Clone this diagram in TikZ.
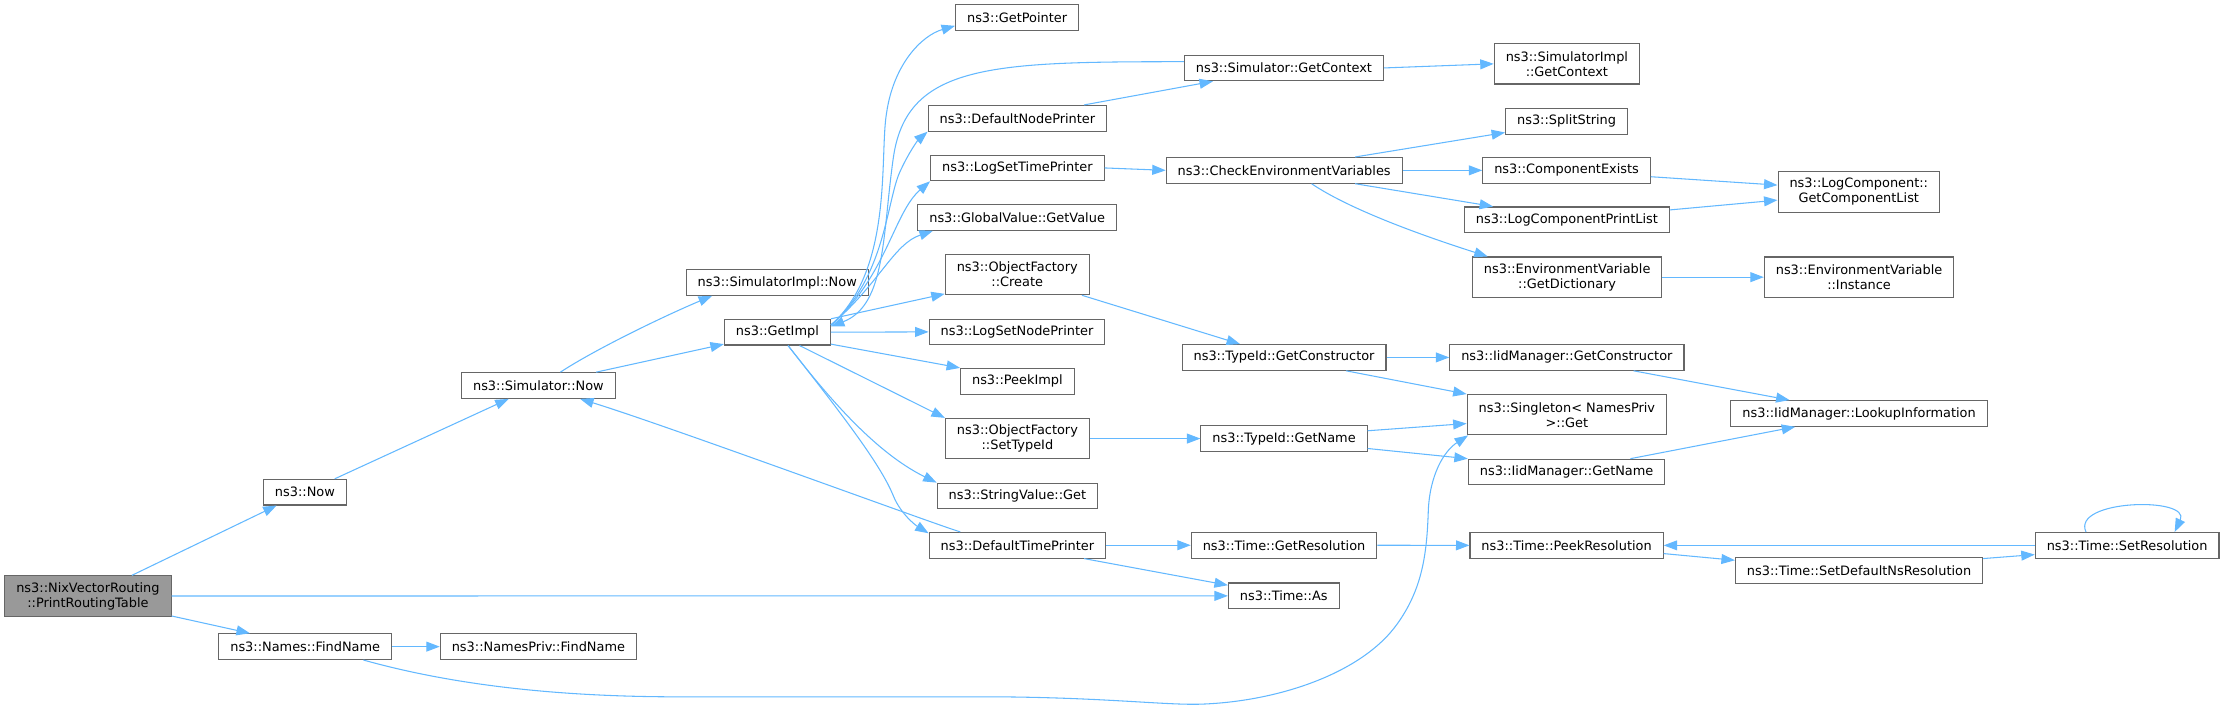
\documentclass[tikz,border=0pt]{standalone}
\usepackage{fontspec}
\setmainfont{DejaVu Sans}
\usetikzlibrary{arrows.meta}
\definecolor{edgeblue}{HTML}{63B8FF}
\definecolor{boxgrey}{HTML}{666666}
\definecolor{rootgrey}{HTML}{999999}
\begin{document}
\begin{tikzpicture}[x=1pt,y=-1pt,
 fn/.style={draw=boxgrey,line width=0.75pt,fill=white,inner xsep=8.1pt,inner ysep=2pt,minimum height=18.1pt,align=center,font=\fontsize{9.1}{10.6}\selectfont},
 fntwo/.style={fn,minimum height=28.4pt},
 root/.style={fntwo,fill=rootgrey},
 call/.style={draw=edgeblue,line width=0.75pt,-{Triangle[length=9.5pt,width=7pt]}}]
 \useasboundingbox (0,0) rectangle (1568,501);
 \node[root] (prt) at (62,420.2) {ns3::NixVectorRouting\\::PrintRoutingTable};
 \node[fn] (now) at (215,347) {ns3::Now};
 \node[fn] (findname) at (215.2,455.9) {ns3::Names::FindName};
 \node[fn] (simnow) at (379.6,271.8) {ns3::Simulator::Now};
 \node[fn] (privfind) at (379.6,455.9) {ns3::NamesPriv::FindName};
 \node[fn] (simimplnow) at (548,199.2) {ns3::SimulatorImpl::Now};
 \node[fn] (getimpl) at (548.1,234.2) {ns3::GetImpl};
 \node[fn] (getpointer) at (717.1,12.2) {ns3::GetPointer};
 \node[fn] (nodeprinter) at (717.3,83.4) {ns3::DefaultNodePrinter};
 \node[fn] (settimeprinter) at (717.3,118.4) {ns3::LogSetTimePrinter};
 \node[fn] (getvalue) at (717.1,153.3) {ns3::GlobalValue::GetValue};
 \node[fntwo] (create) at (717.2,193.6) {ns3::ObjectFactory\\::Create};
 \node[fn] (setnodeprinter) at (717,234) {ns3::LogSetNodePrinter};
 \node[fn] (peekimpl) at (717.3,268.8) {ns3::PeekImpl};
 \node[fntwo] (settypeid) at (717.3,309.2) {ns3::ObjectFactory\\::SetTypeId};
 \node[fn] (stringget) at (717.3,349.7) {ns3::StringValue::Get};
 \node[fn] (timeprinter) at (717.3,384.4) {ns3::DefaultTimePrinter};
 \node[fn] (getcontext) at (905.2,47.9) {ns3::Simulator::GetContext};
 \node[fn] (checkenv) at (905.4,120.1) {ns3::CheckEnvironmentVariables};
 \node[fn] (getctor) at (905.3,252) {ns3::TypeId::GetConstructor};
 \node[fn] (typegetname) at (905.3,309.2) {ns3::TypeId::GetName};
 \node[fn] (getres) at (905.3,384.4) {ns3::Time::GetResolution};
 \node[fn] (timeas) at (905.1,420.1) {ns3::Time::As};
 \node[fntwo] (implgetcontext) at (1104.7,45) {ns3::SimulatorImpl\\::GetContext};
 \node[fn] (splitstring) at (1104.5,85.5) {ns3::SplitString};
 \node[fn] (compexists) at (1104.5,120.1) {ns3::ComponentExists};
 \node[fn] (printlist) at (1104.7,155) {ns3::LogComponentPrintList};
 \node[fntwo] (getdict) at (1104.9,195.4) {ns3::EnvironmentVariable\\::GetDictionary};
 \node[fn] (iidgetctor) at (1104.7,252) {ns3::IidManager::GetConstructor};
 \node[fntwo] (singleton) at (1104.7,292.4) {ns3::Singleton< NamesPriv\\ >::Get};
 \node[fn] (iidgetname) at (1104.5,332.8) {ns3::IidManager::GetName};
 \node[fn] (peekres) at (1104.5,384.5) {ns3::Time::PeekResolution};
 \node[fntwo] (complist) at (1310.5,135.3) {ns3::LogComponent::\\GetComponentList};
 \node[fntwo] (instance) at (1310.7,195.4) {ns3::EnvironmentVariable\\::Instance};
 \node[fn] (lookup) at (1310.7,291.5) {ns3::IidManager::LookupInformation};
 \node[fn] (setdefaultns) at (1310.7,402.4) {ns3::Time::SetDefaultNsResolution};
 \node[fn] (setres) at (1499.7,384.5) {ns3::Time::SetResolution};
 \draw[call] ([xshift=31]prt.north) -- ([xshift=-20]now.south);
 \draw[call] (prt.east) -- (timeas.west);
 \draw[call] ([yshift=0.5]prt.south east) -- ([xshift=-39]findname.north);
 \draw[call] (findname.east) -- (privfind.west);
 \draw[call] ([xshift=41]findname.south) .. controls (330,486) and (410,491.3) .. (480,491.3) -- (706,491.3) .. controls (780,492) and (820,497) .. (845,496.5) .. controls (900,495) and (960,475) .. (985,440) .. controls (1003,415) and (1006,390) .. (1007,360) .. controls (1008,335) and (1018,318) .. ([xshift=1]singleton.south west);
 \draw[call] ([xshift=21]now.north) -- ([xshift=-21]simnow.south);
 \draw[call] ([xshift=15.5]simnow.north) .. controls (420,246) and (470,222) .. ([xshift=-46]simimplnow.south);
 \draw[call] ([xshift=40.7]simnow.north) -- ([yshift=1]getimpl.south west);
 \draw[call] ([yshift=5]getimpl.east) .. controls (630,190) and (620,110) .. (625,80) .. controls (630,45) and (650,25) .. ([yshift=-6]getpointer.west);
 \draw[call] ([yshift=5]getimpl.east) .. controls (625,195) and (625,140) .. (635,120) .. controls (642,105) and (648,98) .. (nodeprinter.south west);
 \draw[call] ([yshift=5]getimpl.east) .. controls (625,195) and (630,150) .. (settimeprinter.south west);
 \draw[call] ([yshift=5]getimpl.east) .. controls (620,200) and (630,172) .. ([xshift=11]getvalue.south west);
 \draw[call] ([yshift=4.4]getcontext.west) .. controls (700,43.5) and (640,45) .. (630,110) .. controls (622,165) and (625,215) .. ([yshift=4]getimpl.east);
 \draw[call] (getimpl.north east) -- ([yshift=1]create.south west);
 \draw[call] (getimpl.east) -- (setnodeprinter.west);
 \draw[call] ([yshift=1]getimpl.south east) -- (peekimpl.north west);
 \draw[call] ([xshift=15.6]getimpl.south) -- (settypeid.north west);
 \draw[call] ([xshift=7.5]getimpl.south) .. controls (580,275) and (615,318) .. (stringget.north west);
 \draw[call] ([xshift=7.5]getimpl.south) .. controls (600,300) and (622,330) .. (630,350) .. controls (635,362) and (645,370) .. ([yshift=-1]timeprinter.north west);
 \draw[call] ([xshift=47]nodeprinter.north) -- ([xshift=-50]getcontext.south);
 \draw[call] (getcontext.east) -- (implgetcontext.west);
 \draw[call] (settimeprinter.east) -- (checkenv.west);
 \draw[call] ([xshift=50]checkenv.north) -- ([yshift=1.5]splitstring.south west);
 \draw[call] (checkenv.east) -- (compexists.west);
 \draw[call] ([xshift=50]checkenv.south) -- ([xshift=-52]printlist.north);
 \draw[call] ([xshift=19.3]checkenv.south) .. controls (955,150) and (1015,170) .. ([xshift=-56]getdict.north);
 \draw[call] ([yshift=-4.5]compexists.east) -- ([yshift=4.8]complist.west);
 \draw[call] ([yshift=7]printlist.east) -- ([yshift=-5.8]complist.west);
 \draw[call] (getdict.east) -- (instance.west);
 \draw[call] ([xshift=45.6]create.south) -- ([xshift=-31]getctor.north);
 \draw[call] (getctor.east) -- (iidgetctor.west);
 \draw[call] ([xshift=43.7]getctor.south) -- (singleton.north west);
 \draw[call] ([xshift=47]iidgetctor.south) -- ([xshift=-49]lookup.north);
 \draw[call] (settypeid.east) -- (typegetname.west);
 \draw[call] ([yshift=5.5]typegetname.east) -- ([yshift=-6.2]singleton.west);
 \draw[call] ([yshift=-7]typegetname.east) -- (iidgetname.north west);
 \draw[call] ([xshift=45]iidgetname.north) -- ([xshift=-45]lookup.south);
 \draw[call] ([xshift=-40.3]timeprinter.north) .. controls (660,370) and (470,300) .. ([xshift=29.4]simnow.south);
 \draw[call] (timeprinter.east) -- (getres.west);
 \draw[call] ([xshift=47]timeprinter.south) -- ([yshift=7.5]timeas.west);
 \draw[call] (getres.east) -- (peekres.west);
 \draw[call] ([yshift=-5.8]peekres.east) -- ([yshift=7.4]setdefaultns.west);
 \draw[call] ([yshift=8.6]setdefaultns.east) -- ([yshift=-6.5]setres.west);
 \draw[call] (setres.west) -- (peekres.east);
 \draw[call] ([xshift=-29]setres.north) .. controls (1460,352) and (1545,350) .. ([xshift=33.5]setres.north);
\end{tikzpicture}
\end{document}
